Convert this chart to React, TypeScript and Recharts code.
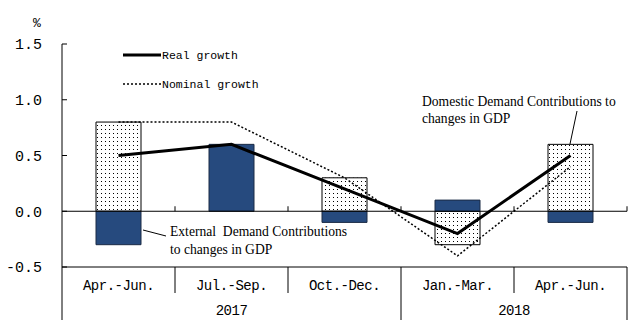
import React from 'react';
import { ComposedChart, Bar, Line, XAxis, YAxis, ReferenceLine } from 'recharts';

const quarters = ['Apr.-Jun.', 'Jul.-Sep.', 'Oct.-Dec.', 'Jan.-Mar.', 'Apr.-Jun.'];
const years = ['2017', '2017', '2017', '2018', '2018'];
const domestic = [0.8, 0, 0.3, -0.3, 0.6];
const external = [-0.3, 0.6, -0.1, 0.1, -0.1];
const realGrowth = [0.5, 0.6, 0.2, -0.2, 0.5];
const nominalGrowth = [0.8, 0.8, 0.3, -0.4, 0.4];
const yTicks = [-0.5, 0, 0.5, 1.0, 1.5];

const data = quarters.map((q, i) => ({
  quarter: q,
  year: years[i],
  domestic: domestic[i],
  external: external[i],
  real: realGrowth[i],
  nominal: nominalGrowth[i],
}));

const W = 640;
const H = 333;
const MARGIN = { top: 44, right: 13, bottom: 0, left: 0 };
const Y_W = 62;
const X_H = 66;
const HALF = (W - MARGIN.left - MARGIN.right - Y_W) / quarters.length / 2;

const BLUE = '#264A7E';
const MONO = '"Liberation Mono", "DejaVu Sans Mono", monospace';
const SERIF = '"Liberation Serif", "DejaVu Serif", serif';

function QuarterTick(props: any) {
  const { x, y, payload } = props;
  const i = props.index ?? payload.index;
  const yearStart = i === 0 || years[i - 1] !== years[i];
  const yearEnd = i === years.length - 1 || years[i + 1] !== years[i];
  let last = i;
  while (last + 1 < years.length && years[last + 1] === years[i]) last++;
  return (
    <g>
      <text x={x} y={y + 23} textAnchor="middle" fontFamily={MONO} fontSize={14} letterSpacing={-0.5} fill="#000">
        {payload.value}
      </text>
      <line x1={x + HALF} y1={y} x2={x + HALF} y2={y + (yearEnd ? 53 : 26)} stroke="#000" />
      {i === 0 && <line x1={x - HALF} y1={y} x2={x - HALF} y2={y + 53} stroke="#000" />}
      {yearStart && (
        <text x={x + (last - i) * HALF} y={y + 48} textAnchor="middle" fontFamily={MONO} fontSize={14} letterSpacing={-0.5} fill="#000">
          {years[i]}
        </text>
      )}
    </g>
  );
}

// zero line with little upward ticks at category boundaries
function ZeroLine(props: any) {
  const { x1, y1, x2, y2 } = props;
  const step = (x2 - x1) / quarters.length;
  return (
    <g>
      <line x1={x1} y1={y1} x2={x2} y2={y2} stroke="#000" strokeWidth={1} />
      {quarters.map((_, k) => (
        <line key={k} x1={x1 + (k + 1) * step} y1={y1 - 5} x2={x1 + (k + 1) * step} y2={y1} stroke="#000" />
      ))}
    </g>
  );
}

export default function App() {
  return (
    <div style={{ position: 'relative', width: W, height: H, background: '#fff' }}>
      <style>{'body{margin:0;background:#fff}'}</style>
      <svg width={0} height={0} style={{ position: 'absolute' }}>
        <defs>
          <pattern id="dots" width={4} height={4} patternUnits="userSpaceOnUse">
            <rect width={4} height={4} fill="#fff" />
            <rect x={1} y={1} width={1} height={1} fill="#000" />
          </pattern>
        </defs>
      </svg>
      <ComposedChart width={W} height={H} data={data} margin={MARGIN} stackOffset="sign">
        <XAxis
          dataKey="quarter"
          height={X_H}
          interval={0}
          tickLine={false}
          tickSize={0}
          tickMargin={0}
          axisLine={{ stroke: '#000' }}
          tick={<QuarterTick />}
        />
        <YAxis
          width={Y_W}
          domain={[-0.5, 1.5]}
          ticks={yTicks}
          allowDataOverflow
          tickFormatter={(v: number) => v.toFixed(1)}
          tickSize={-5}
          tickMargin={25}
          axisLine={{ stroke: '#000' }}
          tickLine={{ stroke: '#000' }}
          tick={{ fill: '#000', fontSize: 15, fontFamily: MONO }}
        />
        <Bar dataKey="domestic" stackId="a" barSize={45} fill="url(#dots)" stroke="#000" strokeWidth={1} isAnimationActive={false} />
        <Bar dataKey="external" stackId="a" barSize={45} fill={BLUE} stroke="#1b2b45" strokeWidth={1} isAnimationActive={false} />
        <ReferenceLine y={0} shape={ZeroLine} />
        <Line type="linear" dataKey="nominal" stroke="#000" strokeWidth={1.5} strokeDasharray="2 2" dot={false} isAnimationActive={false} />
        <Line type="linear" dataKey="real" stroke="#000" strokeWidth={3} dot={false} isAnimationActive={false} />
      </ComposedChart>

      <svg width={W} height={H} style={{ position: 'absolute', left: 0, top: 0, pointerEvents: 'none' }}>
        <text x={37} y={27} textAnchor="middle" fontFamily={MONO} fontSize={13} fill="#000">%</text>

        {/* legend */}
        <line x1={123} y1={55} x2={161} y2={55} stroke="#000" strokeWidth={3} />
        <text x={162} y={59} fontFamily={MONO} fontSize={11.5} fill="#000">Real growth</text>
        <line x1={123} y1={84} x2={161} y2={84} stroke="#000" strokeWidth={1.5} strokeDasharray="2 2" />
        <text x={162} y={88} fontFamily={MONO} fontSize={11.5} fill="#000">Nominal growth</text>

        {/* annotations */}
        <text x={422} y={106} fontFamily={SERIF} fontSize={13.6} fill="#000">Domestic Demand Contributions to</text>
        <text x={422} y={123} fontFamily={SERIF} fontSize={13.6} fill="#000">changes in GDP</text>
        <line x1={577} y1={111} x2={570} y2={144} stroke="#000" strokeWidth={1} />

        <text x={170} y={236} fontFamily={SERIF} fontSize={13.6} fill="#000" style={{ whiteSpace: 'pre' }}>External  Demand Contributions</text>
        <text x={170} y={254} fontFamily={SERIF} fontSize={13.6} fill="#000">to changes in GDP</text>
        <line x1={143} y1={230} x2={166} y2={236} stroke="#000" strokeWidth={1} />
      </svg>
    </div>
  );
}
